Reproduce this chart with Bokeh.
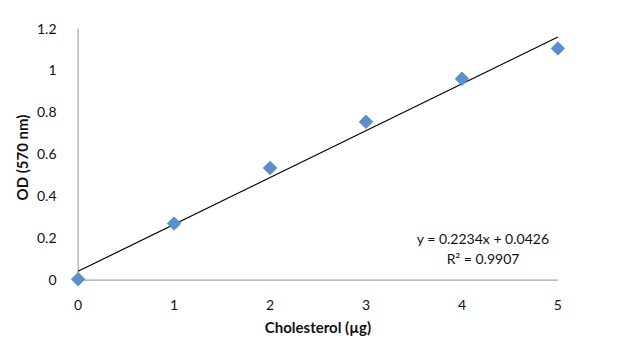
from bokeh.plotting import figure
from bokeh.models import Range1d, Label, FixedTicker
from bokeh.embed import file_html
from bokeh.resources import INLINE

cholesterol = [0, 1, 2, 3, 4, 5]
od = [0.005, 0.27, 0.535, 0.755, 0.96, 1.105]
slope = 0.2234
intercept = 0.0426
eq_text = "y = 0.2234x + 0.0426"
r2_text = "R\u00b2 = 0.9907"
x_ticks = [0, 1, 2, 3, 4, 5]
y_ticks = [0, 0.2, 0.4, 0.6, 0.8, 1.0, 1.2]
y_labels = {0: "0", 0.2: "0.2", 0.4: "0.4", 0.6: "0.6", 0.8: "0.8", 1.0: "1", 1.2: "1.2"}

FONT = "Lato"
TXT = "#111111"

p = figure(width=640, height=353, output_backend="svg", toolbar_location=None,
           x_range=Range1d(-0.1, 5.1), y_range=Range1d(-0.03, 1.2),
           min_border_left=68, min_border_right=73, min_border_top=28, min_border_bottom=67)
p.outline_line_color = None
p.xgrid.visible = False
p.ygrid.visible = False
p.background_fill_color = "white"
p.border_fill_color = "white"

for ax in (p.xaxis[0], p.yaxis[0]):
    ax.axis_line_color = None
    ax.major_tick_line_color = None
    ax.minor_tick_line_color = None
    ax.major_label_text_font = FONT
    ax.major_label_text_font_size = "14px"
    ax.major_label_text_color = TXT
    ax.axis_label_text_font = FONT
    ax.axis_label_text_font_size = "15px"
    ax.axis_label_text_font_style = "bold"
    ax.axis_label_text_color = TXT

p.xaxis.ticker = FixedTicker(ticks=x_ticks)
p.yaxis.ticker = FixedTicker(ticks=y_ticks)
p.yaxis.major_label_overrides = y_labels
p.xaxis.major_label_standoff = 7
p.yaxis.major_label_standoff = 6
p.xaxis.axis_label = "Cholesterol (\u00b5g)"
p.yaxis.axis_label = "OD (570 nm)"
p.xaxis.axis_label_standoff = 5
p.yaxis.axis_label_standoff = 3

# axis lines
p.segment(x0=[0, 0], y0=[0, 0], x1=[x_ticks[-1], 0], y1=[0, y_ticks[-1]],
          line_color="#a6a6a6", line_width=1.2)

# trend line
x0, x1 = cholesterol[0], cholesterol[-1]
p.line([x0, x1], [slope * x0 + intercept, slope * x1 + intercept],
       line_color="black", line_width=1.2)

p.scatter(cholesterol, od, marker="square", angle=0.785398, size=9.5,
          fill_color="#5b8fc9", line_color="#5b8fc9")

p.add_layout(Label(x=4.22, y=0.2, text=eq_text, text_align="center",
                   text_baseline="middle", text_font=FONT, text_font_size="14px",
                   text_color=TXT))
p.add_layout(Label(x=4.22, y=0.105, text=r2_text, text_align="center",
                   text_baseline="middle", text_font=FONT, text_font_size="14px",
                   text_color=TXT))

open("out.html", "w").write(file_html(p, INLINE))
